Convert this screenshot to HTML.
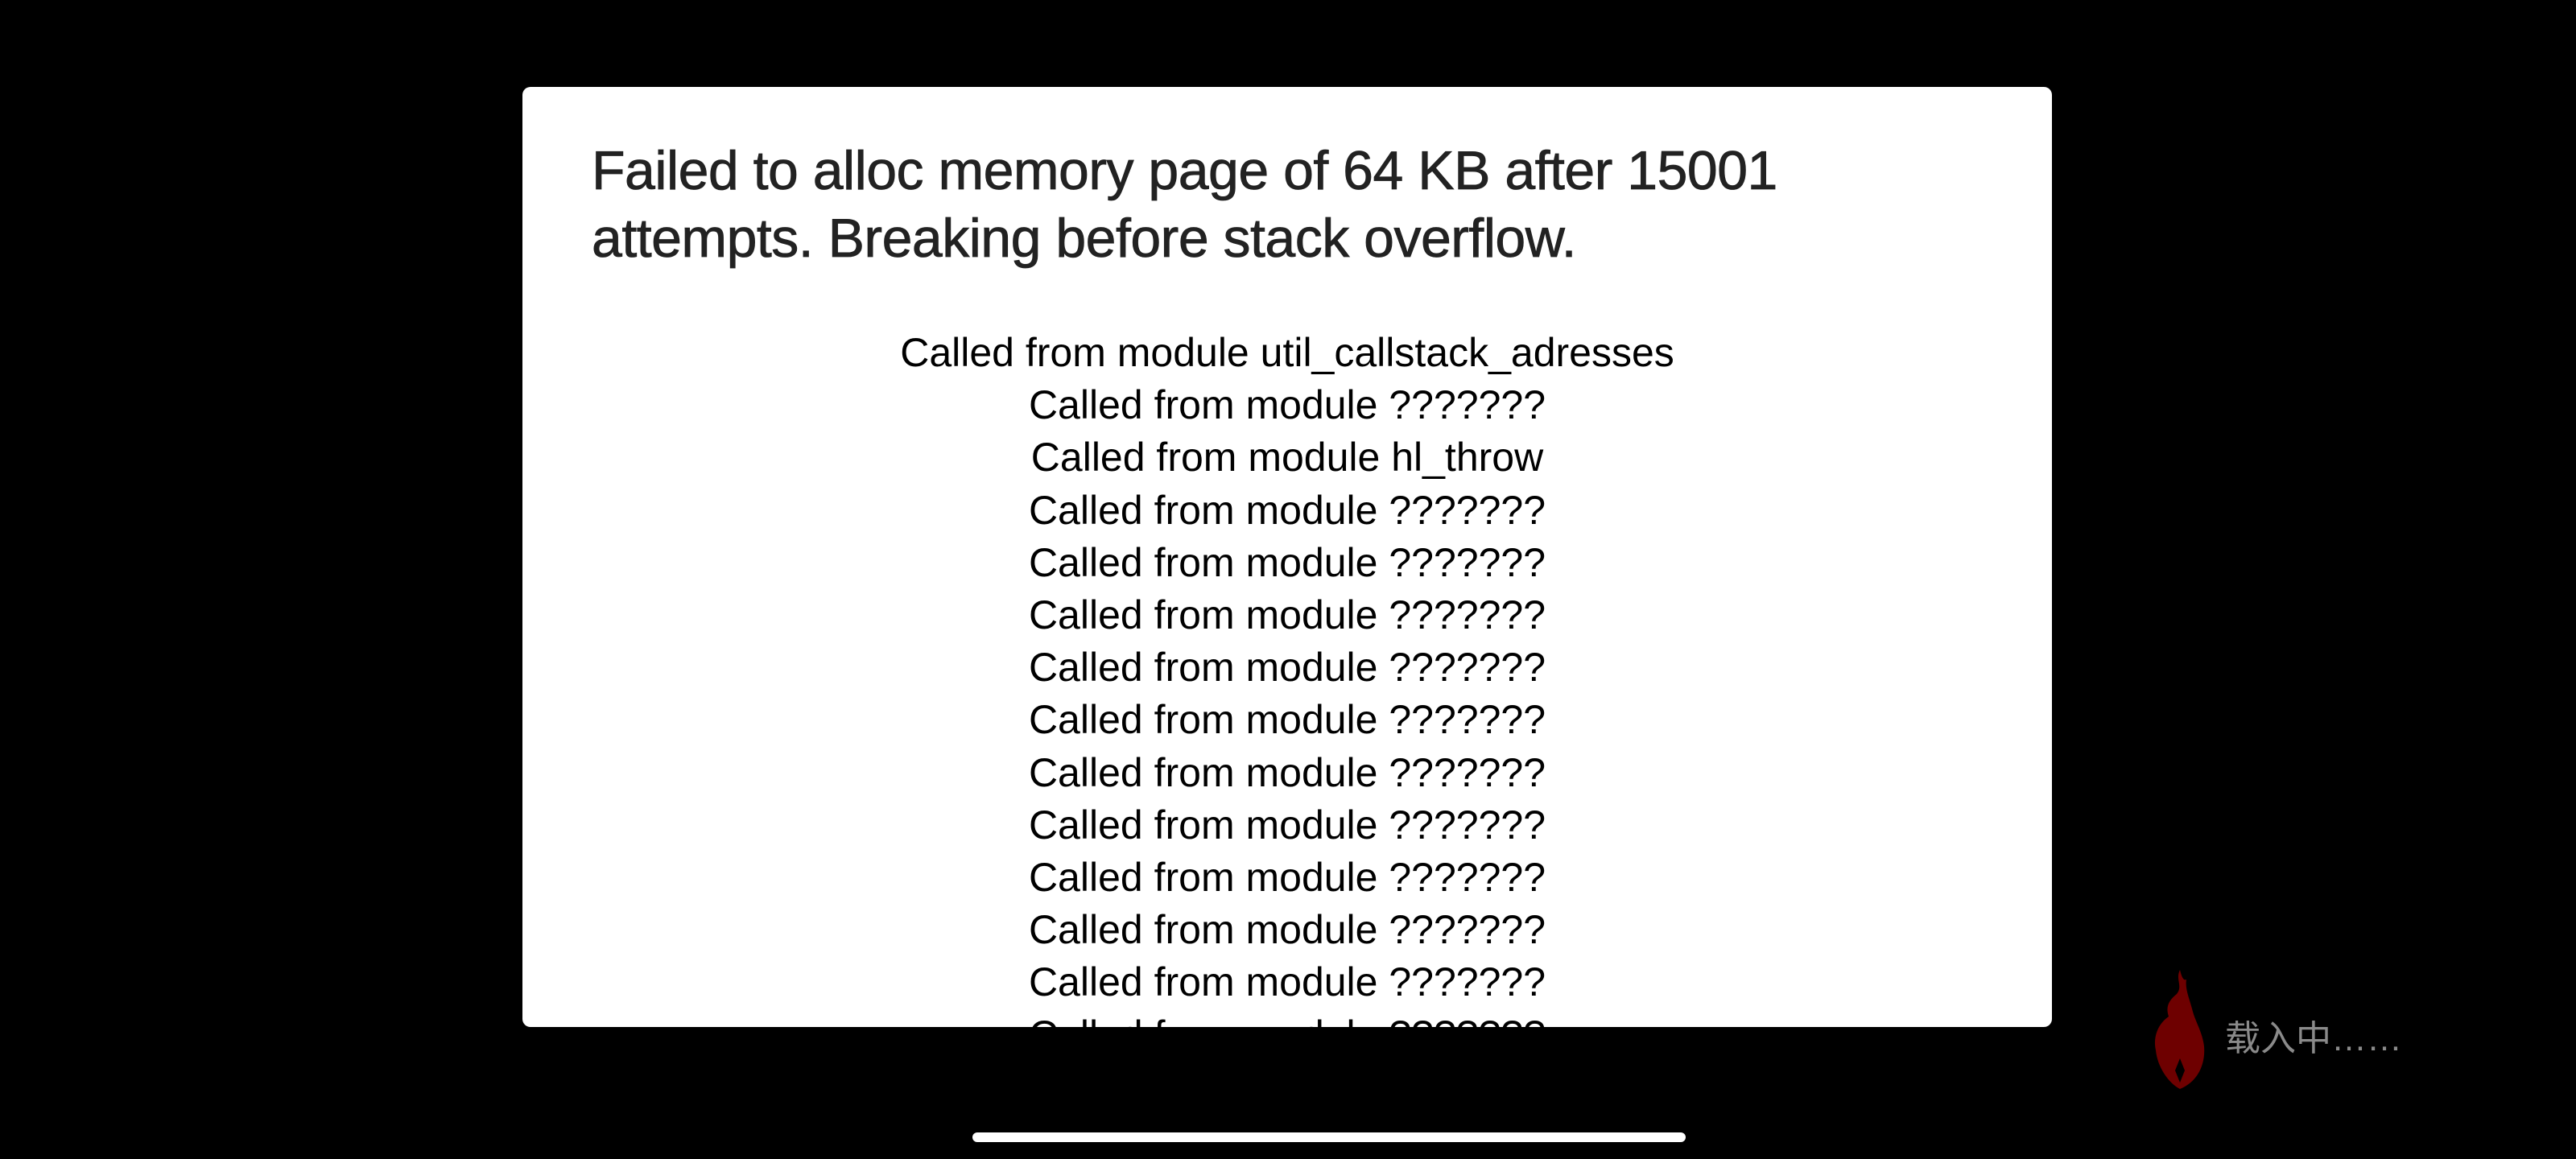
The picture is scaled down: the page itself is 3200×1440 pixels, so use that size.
<!DOCTYPE html>
<html><head><meta charset="utf-8"><style>
html,body{margin:0;padding:0;background:#000;width:3200px;height:1440px;overflow:hidden;}
.dlg{position:absolute;left:649px;top:108px;width:1900px;height:1168px;background:#fff;border-radius:10px;overflow:hidden;}
.title{position:absolute;left:86px;top:62px;width:1800px;font-family:"Liberation Sans",sans-serif;font-size:68px;line-height:84px;color:#222;letter-spacing:-0.5px;-webkit-text-stroke:0.8px #222;}
.stack{position:absolute;left:0;top:298px;width:1900px;text-align:center;font-family:"Liberation Sans",sans-serif;font-size:50px;line-height:65.2px;color:#000;}
.bar{position:absolute;left:1208px;top:1407px;width:886px;height:12px;border-radius:6px;background:#fff;}
.load{position:absolute;left:2764px;top:1254px;font-family:"Liberation Sans","Noto Sans CJK SC",sans-serif;font-size:44px;color:#8a8a8a;}
</style></head><body>
<div class="dlg">
<div class="title">Failed to alloc memory page of 64 KB after 15001<br>attempts. Breaking before stack overflow.</div>
<div class="stack">
<div>Called from module util_callstack_adresses</div>
<div>Called from module ???????</div>
<div>Called from module hl_throw</div>
<div>Called from module ???????</div>
<div>Called from module ???????</div>
<div>Called from module ???????</div>
<div>Called from module ???????</div>
<div>Called from module ???????</div>
<div>Called from module ???????</div>
<div>Called from module ???????</div>
<div>Called from module ???????</div>
<div>Called from module ???????</div>
<div>Called from module ???????</div>
<div>Called from module ???????</div>
</div>
</div>
<svg style="position:absolute;left:2668px;top:1205px" width="85" height="150" viewBox="0 0 85 150">
<path d="M40 0 C34 12 44 20 36 30 C26 38 22 46 26 58 C14 66 6 82 10 100 C12 120 25 140 40 148 C60 140 72 120 70 95 C68 78 60 66 56 52 C52 36 46 24 48 12 C44 14 42 8 40 0 Z" fill="#6e0000"/>
<path d="M40 110 L46 125 L40 140 L34 125 Z" fill="#000"/>
</svg>
<div class="load">载入中……</div>
<div class="bar"></div>
</body></html>
